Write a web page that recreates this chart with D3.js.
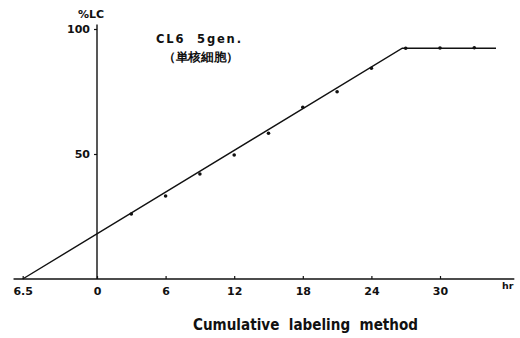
<!DOCTYPE html>
<html lang="ja">
<head>
<meta charset="utf-8">
<title>Cumulative labeling method</title>
<style>
  body { margin: 0; background: #fff; }
  svg text { font-family: "DejaVu Sans", sans-serif; font-weight: bold; fill: #111; }
  .axis path { display: none; }
  .axis line { stroke: #111; stroke-width: 1.2; }
</style>
</head>
<body>
<div id="chart"></div>
<script src="https://d3js.org/d3.v7.min.js"></script>
<script>
  // measured points (hr, %LC)
  var hours = [3, 6, 9, 12, 15, 18, 21, 24, 27, 30, 33];
  var percentLC = [26, 33.2, 42, 49.6, 58.3, 68.7, 74.9, 84.3, 92.3, 92.4, 92.5];

  // fitted line
  var fitHours = [-6.5, 26.7, 34.9];
  var fitValues = [0, 92.3, 92.3];

  var xTicks = [-6.5, 0, 6, 12, 18, 24, 30];
  var xTickLabels = ["6.5", "0", "6", "12", "18", "24", "30"];
  var yTicks = [50, 100];

  var width = 520, height = 338;

  var svg = d3.select("#chart")
    .append("svg")
    .attr("width", width)
    .attr("height", height);

  var x = d3.scaleLinear().domain([0, 30]).range([97, 440]);
  var y = d3.scaleLinear().domain([0, 100]).range([279, 29]);

  // baseline
  svg.append("line")
    .attr("x1", x(-7.3)).attr("x2", x(36.5))
    .attr("y1", y(0)).attr("y2", y(0))
    .attr("stroke", "#111").attr("stroke-width", 1.6);

  // vertical axis at 0 hr
  svg.append("line")
    .attr("x1", x(0)).attr("x2", x(0))
    .attr("y1", y(0)).attr("y2", y(101.8))
    .attr("stroke", "#111").attr("stroke-width", 1.4);

  var xAxis = svg.append("g")
    .attr("class", "axis")
    .attr("transform", "translate(0," + y(0) + ")")
    .call(d3.axisBottom(x)
      .tickValues(xTicks)
      .tickSize(-3)
      .tickPadding(8)
      .tickFormat(function (d, i) { return xTickLabels[i]; }));
  xAxis.selectAll("text").attr("font-size", 11);

  var yAxis = svg.append("g")
    .attr("class", "axis")
    .attr("transform", "translate(" + x(0) + ",0)")
    .call(d3.axisLeft(y).tickValues(yTicks).tickSize(3).tickPadding(4));
  yAxis.selectAll("text").attr("font-size", 11);

  // unit labels
  svg.append("text")
    .attr("x", 78).attr("y", 18)
    .attr("font-size", 11)
    .text("%LC");

  svg.append("text")
    .attr("x", 502).attr("y", 289)
    .attr("font-size", 9.5)
    .text("hr");

  // title
  svg.append("text")
    .attr("x", 156).attr("y", 43)
    .attr("font-size", 11.5)
    .attr("textLength", 85)
    .attr("lengthAdjust", "spacing")
    .style("white-space", "pre")
    .text("CL6  5gen.");

  svg.append("text")
    .attr("x", 163).attr("y", 61)
    .attr("font-family", "'Noto Sans CJK JP', sans-serif")
    .attr("font-size", 12)
    .attr("textLength", 76)
    .attr("lengthAdjust", "spacingAndGlyphs")
    .text("（単核細胞）");

  // fitted line
  var line = d3.line()
    .x(function (d, i) { return x(fitHours[i]); })
    .y(function (d) { return y(d); });

  svg.append("path")
    .datum(fitValues)
    .attr("fill", "none")
    .attr("stroke", "#111")
    .attr("stroke-width", 1.4)
    .attr("d", line);

  // measured points
  svg.selectAll("circle.pt")
    .data(percentLC)
    .enter()
    .append("circle")
    .attr("class", "pt")
    .attr("cx", function (d, i) { return x(hours[i]); })
    .attr("cy", function (d) { return y(d); })
    .attr("r", 1.8)
    .attr("fill", "#111");

  // x axis title
  svg.append("text")
    .attr("x", 193).attr("y", 330)
    .attr("font-size", 15)
    .attr("textLength", 225)
    .attr("lengthAdjust", "spacingAndGlyphs")
    .style("white-space", "pre")
    .text("Cumulative  labeling  method");
</script>
</body>
</html>
